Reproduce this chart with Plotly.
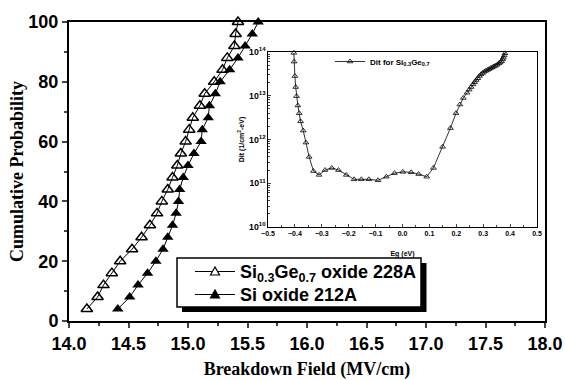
import plotly.graph_objects as go

# ---- main chart data ----
cum_prob = [4, 8, 12, 16, 20, 24, 28, 32, 36, 40, 44, 48, 52, 56, 60, 64, 68, 72, 76, 80, 84, 88, 92, 96, 100]
sige_field = [14.15, 14.24, 14.29, 14.36, 14.43, 14.53, 14.61, 14.68, 14.74, 14.78, 14.83, 14.87, 14.91,
              14.94, 14.98, 15.01, 15.04, 15.10, 15.14, 15.22, 15.29, 15.33, 15.39, 15.40, 15.42]
si_field = [14.41, 14.51, 14.58, 14.66, 14.73, 14.79, 14.83, 14.87, 14.90, 14.92, 14.93, 14.96, 15.00,
            15.05, 15.11, 15.12, 15.17, 15.18, 15.23, 15.27, 15.35, 15.42, 15.48, 15.54, 15.59]
series_names = ["Si<sub>0.3</sub>Ge<sub>0.7</sub> oxide 228A", "Si oxide 212A"]

# ---- inset data ----
eg = [-0.404, -0.403, -0.400, -0.397, -0.394, -0.389, -0.384, -0.379, -0.369, -0.359, -0.347, -0.331,
      -0.310, -0.288, -0.263, -0.238, -0.209, -0.180, -0.153, -0.125, -0.091, -0.060, -0.030, 0.001,
      0.032, 0.060, 0.090, 0.115, 0.149, 0.178, 0.199, 0.213, 0.226, 0.240, 0.248, 0.255, 0.262,
      0.268, 0.274, 0.280, 0.286, 0.292, 0.298, 0.304, 0.310, 0.316, 0.322, 0.328, 0.334, 0.340,
      0.346, 0.352, 0.358, 0.363, 0.368, 0.372, 0.375, 0.378, 0.381, 0.384]
dit = [9.55e13, 6.03e13, 2.82e13, 1.58e13, 9.8e12, 6.0e12, 4.0e12, 2.6e12, 1.6e12, 8.5e11, 4.0e11, 1.9e11,
       1.55e11, 2.0e11, 2.24e11, 2.0e11, 1.55e11, 1.23e11, 1.23e11, 1.23e11, 1.17e11, 1.41e11, 1.7e11, 1.82e11,
       1.78e11, 1.62e11, 1.41e11, 2.24e11, 6.8e11, 1.82e12, 4.0e12, 6.3e12, 8.9e12, 1.17e13, 1.38e13, 1.58e13,
       1.82e13, 2.04e13, 2.29e13, 2.51e13, 2.82e13, 3.09e13, 3.31e13, 3.55e13, 3.72e13, 3.89e13, 4.07e13,
       4.27e13, 4.47e13, 4.68e13, 4.9e13, 5.13e13, 5.5e13, 5.75e13, 6.17e13, 6.76e13, 7.41e13, 8.32e13,
       9.33e13, 1.05e14]

fig = go.Figure()

fig.add_trace(go.Scatter(
    x=sige_field, y=cum_prob, mode="lines+markers", name=series_names[0],
    line=dict(color="black", width=1),
    marker=dict(symbol="triangle-up-open", size=10, color="black", line=dict(width=1.5, color="black")),
    cliponaxis=False, showlegend=False))

fig.add_trace(go.Scatter(
    x=si_field, y=cum_prob, mode="lines+markers", name=series_names[1],
    line=dict(color="black", width=1),
    marker=dict(symbol="triangle-up", size=10, color="black"),
    cliponaxis=False, showlegend=False))

fig.add_trace(go.Scatter(
    x=eg, y=dit, mode="lines+markers", xaxis="x2", yaxis="y2",
    name="Dit for Si<sub>0.3</sub>Ge<sub>0.7</sub>",
    line=dict(color="black", width=0.8),
    marker=dict(symbol="triangle-up-open", size=5, color="black", line=dict(width=0.8, color="black")),
    cliponaxis=False, showlegend=True, legend="legend2"))

bold = dict(family="Liberation Sans, Arial", color="black", weight="bold")
serif_bold = dict(family="Liberation Serif, Times New Roman", size=18, color="black", weight="bold")


def px_x(p):
    return (p - 69) / 476


def px_y(p):
    return (321 - p) / 299


# ---- boxed legend with drop shadow (main series) ----
fig.add_shape(type="rect", xref="paper", yref="paper",
              x0=px_x(182), x1=px_x(426.5), y0=px_y(312), y1=px_y(263),
              fillcolor="black", line=dict(width=0), layer="above")
fig.add_shape(type="rect", xref="paper", yref="paper",
              x0=px_x(177), x1=px_x(421), y0=px_y(307), y1=px_y(258),
              fillcolor="white", line=dict(width=1.5, color="black"), layer="above")

row_y = [271.5, 294.5]
for i in range(len(series_names)):
    yc = row_y[i]
    fig.add_shape(type="line", xref="paper", yref="paper",
                  x0=px_x(195), x1=px_x(235), y0=px_y(yc), y1=px_y(yc),
                  line=dict(color="black", width=1), layer="above")
    tri = "M {a},{b} L {c},{d} L {e},{d} Z".format(
        a=px_x(215), b=px_y(yc - 4.5), c=px_x(210.5), d=px_y(yc + 3.5), e=px_x(219.5))
    fig.add_shape(type="path", xref="paper", yref="paper", path=tri,
                  fillcolor="white" if i == 0 else "black",
                  line=dict(color="black", width=1.2), layer="above")

fig.add_annotation(x=px_x(239), y=px_y(283), xref="paper", yref="paper",
                   xanchor="left", yanchor="middle", align="left", showarrow=False, borderpad=0,
                   text="<br>".join(series_names), font=dict(size=18, **bold))

fig.update_layout(
    width=565, height=380,
    margin=dict(l=69, r=20, t=22, b=59),
    paper_bgcolor="white", plot_bgcolor="white",
    showlegend=True,
    xaxis=dict(range=[14, 18], dtick=0.5, tickformat=".1f", ticks="outside", ticklen=5, tickwidth=2,
               showline=True, linewidth=2, linecolor="black", mirror=True, showgrid=False, zeroline=False,
               tickfont=dict(size=18, **bold), automargin=False,
               minor=dict(dtick=0.25, ticks="outside", ticklen=3, tickwidth=1.5, showgrid=False),
               title=dict(text="Breakdown Field (MV/cm)", standoff=16, font=serif_bold)),
    yaxis=dict(range=[0, 100], dtick=20, ticks="outside", ticklen=5, tickwidth=2,
               showline=True, linewidth=2, linecolor="black", mirror=True, showgrid=False, zeroline=False,
               tickfont=dict(size=18, **bold), automargin=False,
               minor=dict(dtick=10, ticks="outside", ticklen=3, tickwidth=1.5, showgrid=False),
               title=dict(text="Cumulative Probability", standoff=0, font=serif_bold)),
    xaxis2=dict(domain=[px_x(268), px_x(537)], anchor="y2", range=[-0.5, 0.5], dtick=0.1, tickformat=".1f",
                ticks="inside", ticklen=3, showline=True, linewidth=1, linecolor="black", mirror=True,
                showgrid=False, zeroline=False, tickfont=dict(size=7, **bold), automargin=False,
                minor=dict(dtick=0.05, ticks="inside", ticklen=2, showgrid=False),
                title=dict(text="Eg (eV)", standoff=14, font=dict(size=7, **bold))),
    yaxis2=dict(domain=[px_y(227), px_y(52)], anchor="x2", type="log", range=[10, 14], dtick=1,
                exponentformat="power", ticks="inside", ticklen=3, showline=True, linewidth=1,
                linecolor="black", mirror=True, showgrid=False, zeroline=False,
                tickfont=dict(size=7, **bold), automargin=False,
                minor=dict(dtick="D1", ticks="inside", ticklen=1.5, showgrid=False),
                title=dict(text="Dit (1/cm<sup>2</sup>-eV)", standoff=3, font=dict(size=7, **bold))),
    legend2=dict(x=px_x(330), y=px_y(47), xanchor="left", yanchor="top",
                 bgcolor="rgba(0,0,0,0)", borderwidth=0,
                 font=dict(size=8, **bold), itemwidth=30),
)

fig.write_html("out.html")
